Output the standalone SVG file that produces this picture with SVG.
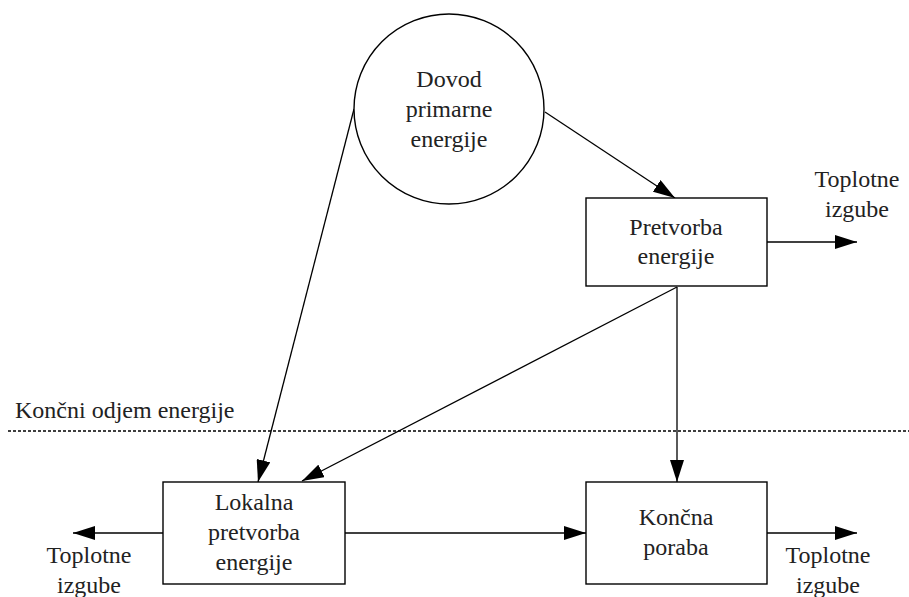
<svg xmlns="http://www.w3.org/2000/svg" width="909" height="597" viewBox="0 0 909 597">
  <defs>
    <marker id="arrow" viewBox="0 0 22 14" refX="22" refY="7" markerWidth="22" markerHeight="14" markerUnits="userSpaceOnUse" orient="auto">
      <path d="M0,0 L22,7 L0,14 Z" fill="#000"/>
    </marker>
    <style>
      .shape { fill: #fff; stroke: #000; stroke-width: 1.4; }
      .conn { fill: none; stroke: #000; stroke-width: 1.3; marker-end: url(#arrow); }
      .boundary { stroke: #000; stroke-width: 1.5; stroke-dasharray: 3 2; }
      .lbl { text-anchor: middle; }
    </style>
  </defs>
  <rect width="909" height="597" fill="#fff"/>

  <g font-family="Liberation Serif, DejaVu Serif, Times New Roman, serif" font-size="24" fill="#222">
    <!-- boundary between supply side and final consumption -->
    <g id="boundary">
      <line class="boundary" x1="8" y1="431" x2="909" y2="431"/>
      <text x="15" y="418">Končni odjem energije</text>
    </g>

    <g id="connectors">
      <line class="conn" x1="545" y1="112" x2="675" y2="198"/>
      <line class="conn" x1="354" y1="109" x2="258" y2="482"/>
      <line class="conn" x1="677" y1="287" x2="302" y2="481"/>
      <line class="conn" x1="677" y1="287" x2="677" y2="482"/>
      <line class="conn" x1="767" y1="242" x2="857" y2="242"/>
      <line class="conn" x1="345" y1="533" x2="586" y2="533"/>
      <line class="conn" x1="163" y1="533" x2="73" y2="533"/>
      <line class="conn" x1="767" y1="533" x2="857" y2="533"/>
    </g>

    <g id="dovod">
      <circle class="shape" cx="449" cy="109" r="95"/>
      <text class="lbl" x="449" y="87">Dovod</text>
      <text class="lbl" x="449" y="117">primarne</text>
      <text class="lbl" x="449" y="147">energije</text>
    </g>

    <g id="pretvorba">
      <rect class="shape" x="586" y="198" width="181" height="88"/>
      <text class="lbl" x="676" y="235">Pretvorba</text>
      <text class="lbl" x="676" y="264">energije</text>
    </g>

    <g id="lokalna">
      <rect class="shape" x="163" y="482" width="182" height="102"/>
      <text class="lbl" x="254" y="510">Lokalna</text>
      <text class="lbl" x="254" y="540">pretvorba</text>
      <text class="lbl" x="254" y="570">energije</text>
    </g>

    <g id="koncna">
      <rect class="shape" x="586" y="482" width="181" height="102"/>
      <text class="lbl" x="676" y="525">Končna</text>
      <text class="lbl" x="676" y="555">poraba</text>
    </g>

    <g id="izgube-top">
      <text class="lbl" x="857" y="187">Toplotne</text>
      <text class="lbl" x="857" y="217">izgube</text>
    </g>
    <g id="izgube-left">
      <text class="lbl" x="89" y="563">Toplotne</text>
      <text class="lbl" x="89" y="593">izgube</text>
    </g>
    <g id="izgube-right">
      <text class="lbl" x="828" y="563">Toplotne</text>
      <text class="lbl" x="828" y="593">izgube</text>
    </g>
  </g>
</svg>
